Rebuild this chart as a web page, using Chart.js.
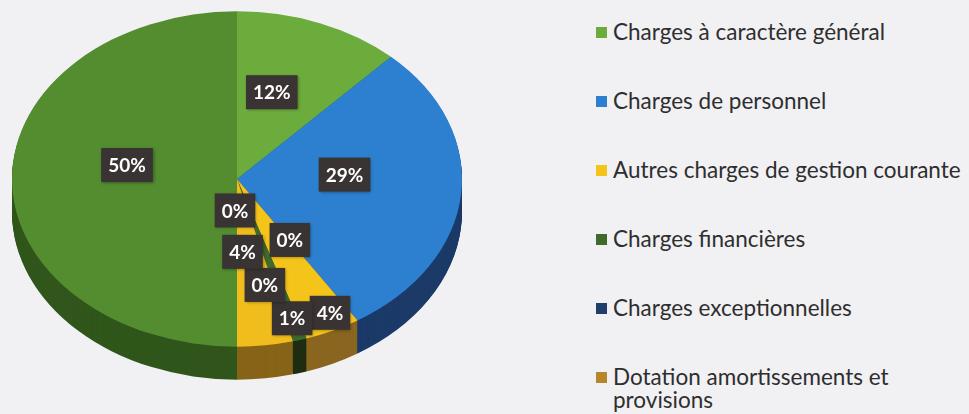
<!DOCTYPE html>
<html>
<head>
<meta charset="utf-8">
<script src="https://cdn.jsdelivr.net/npm/chart.js@4.4.1/dist/chart.umd.min.js"></script>
<style>
  html, body { margin: 0; padding: 0; }
  body { width: 969px; height: 414px; overflow: hidden; background: #f1f0f3; position: relative; font-family: Lato, "Noto Sans", sans-serif; }
  #pieBox { position: absolute; left: 0; top: 0; width: 480px; height: 414px; overflow: hidden; }
  #pie { position: absolute; left: 0; top: 0; }
  #legend { position: absolute; left: 596px; top: 0; width: 370px; height: 414px; overflow: hidden; }
  .item { position: absolute; left: 0; display: flex; align-items: flex-start; color: #2e2e2e; font-size: 22.5px; line-height: 23px; }
  .sw { width: 11px; height: 11px; margin-top: 7px; margin-right: 6px; flex: none; }
</style>
</head>
<body>
<div id="pieBox"><canvas id="pie" width="480" height="480"></canvas></div>
<div id="legend"></div>
<script>
// dépenses de fonctionnement, dans l'ordre du camembert (sens horaire depuis midi)
const categories = [
  "Charges à caractère général",
  "Charges de personnel",
  "Autres charges de gestion courante",
  "Charges financières",
  "Charges exceptionnelles",
  "Dotation amortissements et provisions",
  "Atténuations de produits",
  "Opérations d'ordre",
  "Virement à la section d'investissement"
];
const shares = [12, 29, 4, 1, 0, 0, 4, 0, 50];

const topColors  = ["#6cac3c", "#2c80cf", "#f5c41a", "#3e6b2c", "#1f3e6b", "#b8862a", "#f0bd1c", "#24508a", "#538d30"];
const sideColors = ["#3f6e22", "#1b3a68", "#8a6620", "#1f2e12", "#101d33", "#6b4d18", "#876419", "#122a4a", "#30561b"];
const legendColors = ["#6cac3c", "#2c80cf", "#f5c41a", "#3e6b2c", "#1f3e6b", "#b8862a", "#f0bd1c", "#24508a", "#538d30"];

// petits décalages des étiquettes (placement "au mieux" d'Excel)
const labelNudge = [[-5, 2], [0, 2], [47, 75], [25, 76], [1, 42], [26, -3], [-8, 7], [-2, -35], [-2, 0]];

const TILT = 0.745;
const DEPTH = 33;
const CENTER_Y = 179;
const LABEL_SHIFT = -14;

const pie3d = {
  id: "pie3d",
  beforeDatasetsDraw(chart) {
    const ctx = chart.ctx;
    const arcs = chart.getDatasetMeta(0).data;
    const cx = arcs[0].x, cy = arcs[0].y;
    ctx.save();
    ctx.translate(cx, CENTER_Y);
    ctx.scale(1, TILT);
    ctx.translate(-cx, -cy);
    // le flanc : copies décalées vers le bas, plus sombres
    for (let d = DEPTH; d > 0; d--) {
      ctx.save();
      ctx.translate(0, d / TILT);
      arcs.forEach((arc, i) => {
        const saved = arc.options;
        arc.options = Object.assign({}, saved, { backgroundColor: sideColors[i], borderWidth: 0 });
        arc.draw(ctx);
        arc.options = saved;
      });
      ctx.restore();
    }
  },
  afterDatasetsDraw(chart) {
    const ctx = chart.ctx;
    ctx.restore();
    const arcs = chart.getDatasetMeta(0).data;
    const total = shares.reduce((a, b) => a + b, 0);
    ctx.font = "bold 19px Lato, 'Noto Sans', sans-serif";
    ctx.textAlign = "center";
    ctx.textBaseline = "middle";
    arcs.forEach((arc, i) => {
      const mid = (arc.startAngle + arc.endAngle) / 2;
      const r = arc.outerRadius * 0.48;
      const x = arc.x + r * Math.cos(mid) + labelNudge[i][0];
      const y = CENTER_Y + LABEL_SHIFT + r * TILT * Math.sin(mid) + labelNudge[i][1];
      const txt = Math.round(shares[i] / total * 100) + "%";
      const w = ctx.measureText(txt).width + 14;
      const h = 34;
      ctx.save();
      ctx.shadowColor = "rgba(0,0,0,0.35)";
      ctx.shadowBlur = 3;
      ctx.shadowOffsetX = 1;
      ctx.shadowOffsetY = 1;
      ctx.fillStyle = "#3a3333";
      ctx.fillRect(x - w / 2, y - h / 2, w, h);
      ctx.restore();
      ctx.fillStyle = "#ffffff";
      ctx.fillText(txt, x, y + 1);
    });
  }
};

const chart = new Chart(document.getElementById("pie"), {
  type: "pie",
  data: {
    labels: categories,
    datasets: [{
      data: shares,
      backgroundColor: topColors,
      borderWidth: 0,
      clip: false
    }]
  },
  options: {
    responsive: false,
    animation: false,
    events: [],
    layout: { padding: { left: 12, right: 18, top: 15, bottom: 15 } },
    plugins: {
      legend: { display: false },
      tooltip: { enabled: false }
    }
  },
  plugins: [pie3d]
});

// légende HTML (la liste continue sous le bord de l'image)
const legend = document.getElementById("legend");
chart.data.labels.forEach((name, i) => {
  const el = document.createElement("div");
  el.className = "item";
  el.style.top = (20 + i * 69) + "px";
  el.innerHTML = '<span class="sw" style="background:' + legendColors[i] + '"></span><span>' + name + '</span>';
  legend.appendChild(el);
});
</script>
</body>
</html>
